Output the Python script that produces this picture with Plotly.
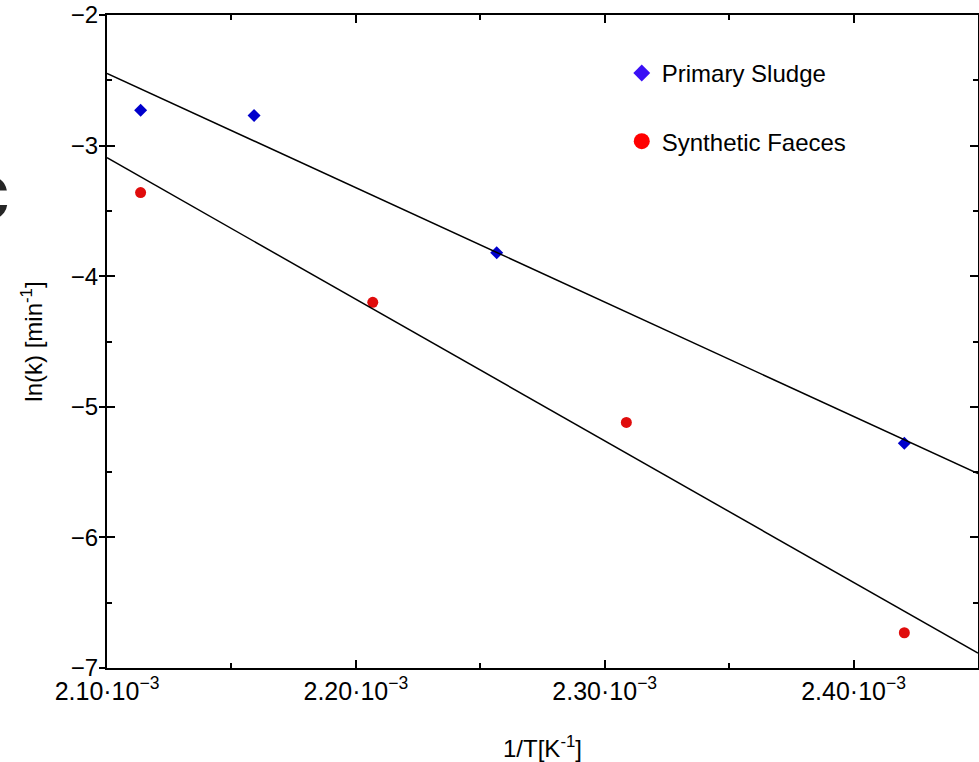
import numpy as np
import plotly.graph_objects as go

# values
inv_t_sludge = [2.1135e-3, 2.1591e-3, 2.2566e-3, 2.4204e-3]
lnk_sludge = [-2.73, -2.77, -3.82, -5.28]

inv_t_faeces = [2.1135e-3, 2.2068e-3, 2.3087e-3, 2.4204e-3]
lnk_faeces = [-3.36, -4.20, -5.12, -6.73]

x_tickvals = [2.10e-3, 2.20e-3, 2.30e-3, 2.40e-3]
x_ticktext = ["2.10·10<sup>−3</sup>", "2.20·10<sup>−3</sup>",
              "2.30·10<sup>−3</sup>", "2.40·10<sup>−3</sup>"]
y_tickvals = [-7, -6, -5, -4, -3, -2]

x_range = [2.10e-3, 2.45e-3]
y_range = [-7, -2]

FONT = "Liberation Sans, Arial, Helvetica, sans-serif"

# linear (Arrhenius) fits drawn across the whole axis
fit_x = np.array(x_range)
fit_sludge = np.polyval(np.polyfit(inv_t_sludge, lnk_sludge, 1), fit_x)
fit_faeces = np.polyval(np.polyfit(inv_t_faeces, lnk_faeces, 1), fit_x)

fig = go.Figure()

for fy in (fit_sludge, fit_faeces):
    fig.add_trace(go.Scatter(x=fit_x, y=fy, mode="lines", yaxis="y2",
                             line=dict(color="black", width=1.5),
                             showlegend=False, hoverinfo="skip"))

fig.add_trace(go.Scatter(x=inv_t_sludge, y=lnk_sludge, mode="markers",
                         marker=dict(symbol="diamond", size=10, color="#0000cc"),
                         showlegend=False))
fig.add_trace(go.Scatter(x=inv_t_faeces, y=lnk_faeces, mode="markers",
                         marker=dict(symbol="circle", size=11, color="#e00c0c"),
                         showlegend=False))

# legend entries (legend markers are drawn brighter/larger than the data)
fig.add_trace(go.Scatter(x=[None], y=[None], mode="markers", name="Primary Sludge",
                         legendgroup="a",
                         marker=dict(symbol="diamond", size=13, color="#3a10f5")))
fig.add_trace(go.Scatter(x=[None], y=[None], mode="markers", name="Synthetic Faeces",
                         legendgroup="b",
                         marker=dict(symbol="circle", size=16, color="#ff0000")))

# panel letter, cut off by the left edge in the source figure
fig.add_annotation(text="<b>c</b>", xref="paper", yref="paper",
                   x=-0.109, y=0.730, xanchor="right", yanchor="middle",
                   showarrow=False, font=dict(family=FONT, size=80, color="#262626"))

axis_common = dict(showline=True, linecolor="black", linewidth=1.5,
                   showgrid=False, zeroline=False, mirror="ticks",
                   tickcolor="black", tickwidth=1.5)

fig.update_layout(
    width=979, height=762,
    margin=dict(l=107, r=1, t=15, b=94, autoexpand=False),
    plot_bgcolor="white", paper_bgcolor="white",
    font=dict(family=FONT, size=22, color="black"),
    xaxis=dict(**axis_common, range=x_range, tickmode="array",
               tickvals=x_tickvals, ticktext=x_ticktext,
               ticks="inside", ticklen=8,
               minor=dict(tickmode="linear", tick0=2.10e-3, dtick=5e-5,
                          ticks="inside", ticklen=5, tickcolor="black", tickwidth=1.5),
               tickfont=dict(size=25),
               title=dict(text="1/T[K<sup>-1</sup>]", font=dict(size=24), standoff=38)),
    yaxis=dict(**axis_common, range=y_range, tickmode="array",
               tickvals=y_tickvals, ticks="inside", ticklen=8,
               showticklabels=False,
               minor=dict(tickmode="linear", tick0=-7, dtick=0.5,
                          ticks="inside", ticklen=5, tickcolor="black", tickwidth=1.5),
               title=dict(text="ln(k) [min<sup>-1</sup>]", font=dict(size=24), standoff=56)),
    yaxis2=dict(overlaying="y", side="left", anchor="x", range=y_range,
                tickmode="array", tickvals=y_tickvals, ticks="outside",
                ticklen=7, tickcolor="black", tickwidth=1.5,
                showline=False, showgrid=False, zeroline=False,
                ticklabelstandoff=-4, tickfont=dict(size=24)),
    legend=dict(x=0.591, y=0.945, xanchor="left", yanchor="top",
                traceorder="grouped", tracegroupgap=34,
                font=dict(size=24), bgcolor="rgba(0,0,0,0)", itemsizing="trace"),
)

# drop the browser's default 8px body margin so the figure sits at the corner
fig.write_html("out.html", config={"displayModeBar": False},
               post_script="document.body.style.margin='0';")
